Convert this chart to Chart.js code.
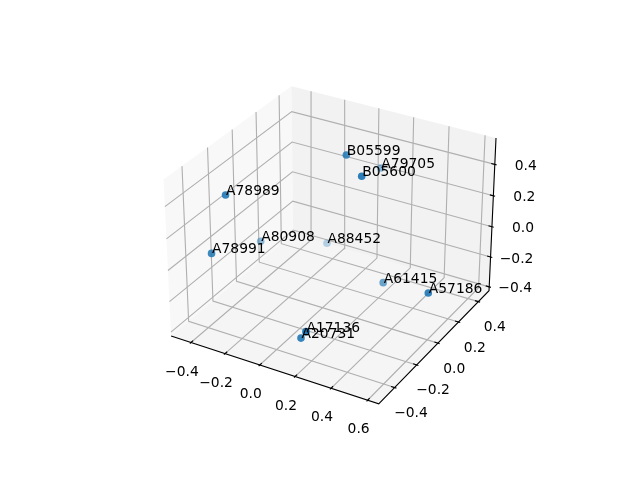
<!DOCTYPE html>
<html>
<head>
<meta charset="utf-8">
<style>html,body{margin:0;padding:0;background:#fff}canvas{display:block}</style>
<script src="https://cdn.jsdelivr.net/npm/chart.js@4/dist/chart.umd.min.js"></script>
</head>
<body>
<canvas id="c" width="640" height="480"></canvas>
<script>
const sampleLabels = ["A78989","A78991","A80908","A88452","B05599","A79705","B05600","A61415","A57186","A17136","A20731"];
const xValues = [-0.337,-0.355,-0.369,-0.185,0.091,0.067,0.237,0.302,0.633,0.223,0.153];
const yValues = [-0.313,-0.413,0.007,0.324,0.070,0.426,-0.025,0.076,-0.060,-0.480,-0.418];
const zValues = [0.391,0.081,-0.113,-0.266,0.543,0.249,0.511,-0.206,-0.069,-0.172,-0.282];
const xTicks = [-0.4,-0.2,0.0,0.2,0.4,0.6];
const yTicks = [-0.4,-0.2,0.0,0.2,0.4];
const zTicks = [-0.4,-0.2,0.0,0.2,0.4];
const xLim = [-0.518,0.660];
const yLim = [-0.540,0.510];
const zLim = [-0.426,0.565];

const BOX = [1.1905,1.1905,0.8929], SCALE = 1997.8, CX = 333, CY = 237.4, DIST = 10;
function view(x,y,z){
  const p = [(x-xLim[0])/(xLim[1]-xLim[0])*BOX[0]-BOX[0]/2,
             (y-yLim[0])/(yLim[1]-yLim[0])*BOX[1]-BOX[1]/2,
             (z-zLim[0])/(zLim[1]-zLim[0])*BOX[2]-BOX[2]/2];
  return {
    xv: 0.8660254*p[0]+0.5*p[1],
    yv: -0.25*p[0]+0.4330127*p[1]+0.8660254*p[2],
    d:  0.4330127*p[0]-0.75*p[1]+0.5*p[2]
  };
}
function proj(x,y,z){
  const v = view(x,y,z), w = DIST-v.d;
  return {x: CX+SCALE*v.xv/w, y: CY-SCALE*v.yv/w};
}
const [x0,x1]=xLim,[y0,y1]=yLim,[z0,z1]=zLim;
const dx=(x1-x0)/12, dy=(y1-y0)/12, dz=(z1-z0)/12;
const IN=0.2, OUT=0.1, GRID='rgb(176,176,176)', LW=1.11;

const datasets=[];
function poly(pts,opt){
  datasets.push(Object.assign({showLine:true,pointRadius:0,borderWidth:0,tension:0,fill:false,
    data:pts.map(p=>proj(p[0],p[1],p[2]))},opt));
}
// panes
poly([[x0,y0,z0],[x0,y1,z0],[x0,y1,z1],[x0,y0,z1],[x0,y0,z0]],{fill:'shape',backgroundColor:'rgba(242,242,242,0.5)',borderColor:'rgba(0,0,0,0)',order:10});
poly([[x0,y1,z0],[x1,y1,z0],[x1,y1,z1],[x0,y1,z1],[x0,y1,z0]],{fill:'shape',backgroundColor:'rgba(230,230,230,0.5)',borderColor:'rgba(0,0,0,0)',order:10});
poly([[x0,y0,z0],[x1,y0,z0],[x1,y1,z0],[x0,y1,z0],[x0,y0,z0]],{fill:'shape',backgroundColor:'rgba(236,236,236,0.5)',borderColor:'rgba(0,0,0,0)',order:10});
// grid
const gridStyle={borderColor:GRID,borderWidth:LW,order:8};
xTicks.forEach(t=>poly([[t,y0,z0],[t,y1,z0],[t,y1,z1]],gridStyle));
yTicks.forEach(t=>poly([[x1,t,z0],[x0,t,z0],[x0,t,z1]],gridStyle));
zTicks.forEach(t=>poly([[x1,y1,t],[x0,y1,t],[x0,y0,t]],gridStyle));
// axis lines and tick marks
const axisStyle={borderColor:'#000',borderWidth:LW,order:6};
poly([[x0,y0,z0],[x1,y0,z0],[x1,y1,z0],[x1,y1,z1]],axisStyle);
xTicks.forEach(t=>poly([[t,y0-OUT*dy,z0],[t,y0+IN*dy,z0]],axisStyle));
yTicks.forEach(t=>poly([[x1+OUT*dx,t,z0],[x1-IN*dx,t,z0]],axisStyle));
zTicks.forEach(t=>poly([[x1+OUT*dx,y1,t],[x1-IN*dx,y1,t]],axisStyle));

// points, far ones first, shaded by depth
const depths=sampleLabels.map((_,i)=>view(xValues[i],yValues[i],zValues[i]).d);
const dMin=Math.min(...depths), dMax=Math.max(...depths);
const idx=sampleLabels.map((_,i)=>i).sort((a,b)=>depths[a]-depths[b]);
datasets.push({
  data:idx.map(i=>proj(xValues[i],yValues[i],zValues[i])),
  pointRadius:3.8,pointBorderWidth:0,pointHoverRadius:3.8,
  pointBackgroundColor:idx.map(i=>`rgba(31,119,180,${(0.3+0.7*(depths[i]-dMin)/(dMax-dMin)).toFixed(3)})`),
  order:1
});

const FONT='13.89px "DejaVu Sans"';
const fmt=t=>t.toFixed(1).replace('-','\u2212');
const textPlugin={
  id:'texts',
  afterDatasetsDraw(chart){
    const c=chart.ctx;
    c.save();
    c.font=FONT;c.fillStyle='#000';
    c.textAlign='center';c.textBaseline='middle';
    xTicks.forEach(t=>{const p=proj(t,y0,z0);c.fillText(fmt(t),p.x-9,p.y+29.5);});
    yTicks.forEach(t=>{const p=proj(x1,t,z0);c.fillText(fmt(t),p.x+16.4,p.y+25.9);});
    zTicks.forEach(t=>{const p=proj(x1,y1,t);c.fillText(fmt(t),p.x+(t<0?26:31),p.y+2);});
    c.textAlign='left';c.textBaseline='alphabetic';
    sampleLabels.forEach((s,i)=>{const p=proj(xValues[i],yValues[i],zValues[i]);c.fillText(s,p.x+0.5,p.y);});
    c.restore();
  }
};

new Chart(document.getElementById('c'),{
  type:'scatter',
  data:{datasets},
  plugins:[textPlugin],
  options:{
    responsive:false,animation:false,
    layout:{padding:0,autoPadding:false},
    events:[],
    plugins:{legend:{display:false},tooltip:{enabled:false},title:{display:false}},
    scales:{
      x:{type:'linear',display:false,min:0,max:640},
      y:{type:'linear',display:false,min:0,max:480,reverse:true}
    }
  }
});
</script>
</body>
</html>
